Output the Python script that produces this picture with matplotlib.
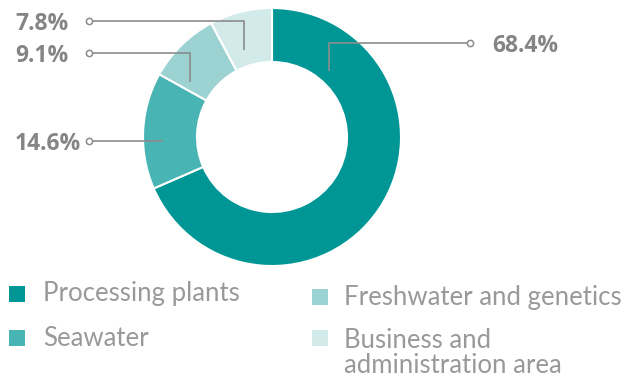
import matplotlib
matplotlib.use("Agg")
import matplotlib.pyplot as plt
from matplotlib.patches import Rectangle

# Share of area by segment (%)
categories = ["Processing plants", "Seawater", "Freshwater and genetics",
              "Business and\nadministration area"]
shares = [68.4, 14.6, 9.1, 7.8]
value_labels = ["68.4%", "14.6%", "9.1%", "7.8%"]
colors = ["#009696", "#48b4b4", "#9cd2d2", "#d2eaea"]

W, H = 640, 377
fig = plt.figure(figsize=(W / 100, H / 100), dpi=100)
ax = fig.add_axes([0, 0, 1, 1])


def py(y):
    # pixel row (from top) -> data y
    return H - y


cx, cy, r_out, ring = 272, 137, 129, 54
ax.pie(shares, colors=colors, startangle=90, counterclock=False,
       center=(cx, py(cy)), radius=r_out,
       wedgeprops=dict(width=ring, edgecolor="white", linewidth=1.5),
       frame=True)
ax.set_xlim(0, W)
ax.set_ylim(0, H)
ax.set_aspect("equal")
ax.axis("off")

# Leader lines: anchor in ring, elbow, end with small circle, text x
line_col = "#8c8c8c"
text_col = "#858585"
leaders = {
    "68.4%": [(329, 71), (329, 43), (470, 43), 492],
    "14.6%": [(163, 141), (163, 141), (89, 141), 15],
    "9.1%": [(190, 82), (190, 53), (89, 53), 15],
    "7.8%": [(244, 50), (244, 21), (89, 21), 15],
}
for lab in value_labels:
    a, e, end, tx = leaders[lab]
    xs = [a[0], e[0], end[0]]
    ys = [py(a[1]), py(e[1]), py(end[1])]
    ax.plot(xs, ys, color=line_col, lw=1.2, solid_capstyle="butt", zorder=3)
    ax.plot(end[0], py(end[1]), "o", ms=4.5, mfc="white", mec=line_col,
            mew=1.1, zorder=4)
    ax.text(tx, py(end[1] + 2.5), lab, ha="left", va="center", fontsize=16.5,
            fontweight="bold", color=text_col, family=["Open Sans", "DejaVu Sans"])

# Legend
leg_pos = [(9, 286, 43, 294), (9, 330, 43, 338), (312, 289, 344, 297),
           (312, 330, 344, 353)]
for cat, col, (sx, sy, tx, ty) in zip(categories, colors, leg_pos):
    ax.add_patch(Rectangle((sx, py(sy + 16)), 16, 16, facecolor=col,
                           edgecolor="none"))
    ax.text(tx, py(ty), cat, ha="left", va="center",
            fontsize=18.5, color="#999999", family=["Lato", "DejaVu Sans"],
            linespacing=1.0)

fig.savefig("out.png", dpi=100, facecolor="white")
